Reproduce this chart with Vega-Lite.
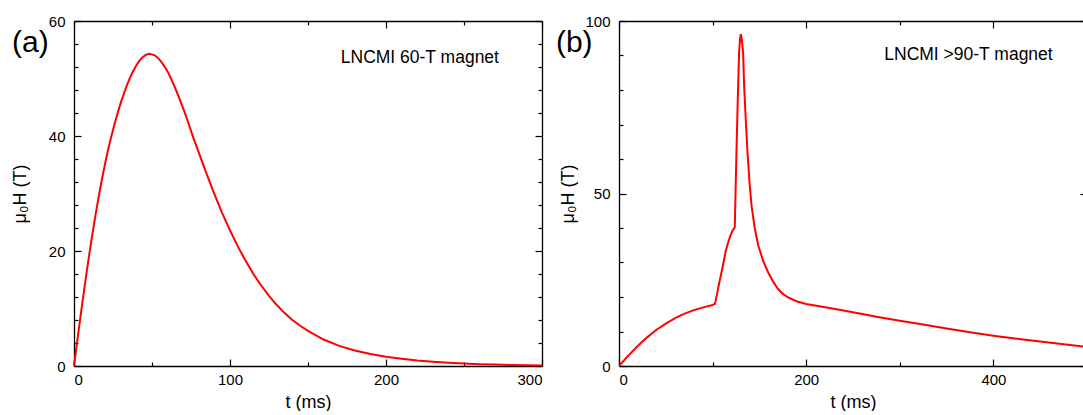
{
  "$schema": "https://vega.github.io/schema/vega-lite/v6.json",
  "background": "white",
  "padding": {"left": 11, "top": 14, "right": 0, "bottom": 0},
  "spacing": 9,
  "config": {
    "font": "Liberation Sans",
    "view": {"stroke": null},
    "axis": {"domainColor": "#000", "tickColor": "#000", "labelColor": "#000", "titleColor": "#000", "labelFontSize": 15, "titleFontSize": 18, "titleFontWeight": "normal", "domainWidth": 1.3, "tickWidth": 1.2, "grid": false, "labelFont": "Liberation Sans", "titleFont": "Liberation Sans"}
  },
  "hconcat": [
    {
      "width": 468,
      "height": 345,
      "data": {"values": [
        {"t": 0, "H": 0}, {"t": 2, "H": 4.2}, {"t": 4, "H": 8.3}, {"t": 6, "H": 12.3}, {"t": 8, "H": 16.1}, {"t": 10, "H": 19.8},
        {"t": 12, "H": 23.3}, {"t": 14, "H": 26.6}, {"t": 16, "H": 29.7}, {"t": 18, "H": 32.6}, {"t": 20, "H": 35.3},
        {"t": 22, "H": 37.8}, {"t": 24, "H": 40.0}, {"t": 26, "H": 42.1}, {"t": 28, "H": 44.0}, {"t": 30, "H": 45.8},
        {"t": 32, "H": 47.4}, {"t": 34, "H": 48.9}, {"t": 36, "H": 50.2}, {"t": 38, "H": 51.3}, {"t": 40, "H": 52.3},
        {"t": 42, "H": 53.1}, {"t": 44, "H": 53.7}, {"t": 46, "H": 54.1}, {"t": 48, "H": 54.3}, {"t": 50, "H": 54.2},
        {"t": 52, "H": 54.0}, {"t": 54, "H": 53.5}, {"t": 56, "H": 52.9}, {"t": 58, "H": 52.1}, {"t": 60, "H": 51.2},
        {"t": 62, "H": 50.1}, {"t": 64, "H": 48.9}, {"t": 66, "H": 47.6}, {"t": 68, "H": 46.2}, {"t": 70, "H": 44.8},
        {"t": 72, "H": 43.3}, {"t": 74, "H": 41.7}, {"t": 76, "H": 40.1}, {"t": 78, "H": 38.6}, {"t": 80, "H": 37.1},
        {"t": 85, "H": 33.4}, {"t": 90, "H": 29.9}, {"t": 95, "H": 26.6}, {"t": 100, "H": 23.6}, {"t": 105, "H": 20.8},
        {"t": 110, "H": 18.3}, {"t": 115, "H": 16.0}, {"t": 120, "H": 14.0}, {"t": 125, "H": 12.2}, {"t": 130, "H": 10.6},
        {"t": 135, "H": 9.2}, {"t": 140, "H": 8.0}, {"t": 145, "H": 7.0}, {"t": 150, "H": 6.1}, {"t": 160, "H": 4.6},
        {"t": 170, "H": 3.5}, {"t": 180, "H": 2.7}, {"t": 190, "H": 2.1}, {"t": 200, "H": 1.6}, {"t": 210, "H": 1.25},
        {"t": 220, "H": 0.95}, {"t": 230, "H": 0.72}, {"t": 240, "H": 0.55}, {"t": 250, "H": 0.42}, {"t": 260, "H": 0.32},
        {"t": 270, "H": 0.24}, {"t": 280, "H": 0.18}, {"t": 290, "H": 0.13}, {"t": 300, "H": 0.1}
      ]},
      "layer": [
        {
          "mark": {"type": "line", "color": "#ff0000", "strokeWidth": 2},
          "encoding": {
            "x": {"field": "t", "type": "quantitative", "scale": {"domain": [0, 300], "nice": false}, "axis": {"orient": "bottom", "values": [0, 100, 200, 300], "ticks": false, "labelPadding": 6, "title": "t (ms)", "titlePadding": 6}},
            "y": {"field": "H", "type": "quantitative", "scale": {"domain": [0, 60], "nice": false}, "axis": {"orient": "left", "values": [0, 20, 40, 60], "ticks": false, "labelPadding": 9, "title": "μ₀H (T)", "titlePadding": 19}}
          }
        },
        {
          "mark": {"type": "line", "opacity": 0},
          "encoding": {
            "x": {"field": "t", "type": "quantitative", "axis": {"orient": "bottom", "values": [0, 100, 200, 300], "labels": false, "domain": false, "tickSize": -7, "title": null}},
            "y": {"field": "H", "type": "quantitative", "axis": {"orient": "left", "values": [0, 20, 40, 60], "labels": false, "domain": false, "tickSize": -7, "title": null}}
          }
        },
        {
          "mark": {"type": "line", "opacity": 0},
          "encoding": {
            "x": {"field": "t", "type": "quantitative", "axis": {"orient": "bottom", "values": [50, 150, 250], "labels": false, "domain": false, "tickSize": -4, "title": null}},
            "y": {"field": "H", "type": "quantitative", "axis": {"orient": "left", "values": [4, 8, 12, 16, 24, 28, 32, 36, 44, 48, 52, 56], "labels": false, "domain": false, "tickSize": -4, "title": null}}
          }
        },
        {
          "mark": {"type": "line", "opacity": 0},
          "encoding": {
            "x": {"field": "t", "type": "quantitative", "axis": {"orient": "top", "values": [0, 100, 200, 300], "labels": false, "domain": true, "tickSize": -7, "title": null}},
            "y": {"field": "H", "type": "quantitative", "axis": {"orient": "right", "values": [0, 20, 40, 60], "labels": false, "domain": true, "tickSize": -7, "title": null}}
          }
        },
        {
          "mark": {"type": "line", "opacity": 0},
          "encoding": {
            "x": {"field": "t", "type": "quantitative", "axis": {"orient": "top", "values": [50, 150, 250], "labels": false, "domain": false, "tickSize": -4, "title": null}},
            "y": {"field": "H", "type": "quantitative", "axis": {"orient": "right", "values": [4, 8, 12, 16, 24, 28, 32, 36, 44, 48, 52, 56], "labels": false, "domain": false, "tickSize": -4, "title": null}}
          }
        },
        {
          "data": {"values": [{"label": "LNCMI 60-T magnet"}]},
          "mark": {"type": "text", "align": "left", "baseline": "middle", "fontSize": 17.5, "color": "#000"},
          "encoding": {
            "x": {"datum": 171, "type": "quantitative", "axis": null},
            "y": {"datum": 53.6, "type": "quantitative", "axis": null},
            "text": {"field": "label"}
          }
        },
        {
          "data": {"values": [{"label": "(a)"}]},
          "mark": {"type": "text", "align": "left", "baseline": "alphabetic", "fontSize": 30, "color": "#000"},
          "encoding": {
            "x": {"datum": -39.7, "type": "quantitative", "axis": null},
            "y": {"datum": 54.6, "type": "quantitative", "axis": null},
            "text": {"field": "label"}
          }
        }
      ],
      "resolve": {"axis": {"x": "independent", "y": "independent"}}
    },
    {
      "width": 468,
      "height": 345,
      "data": {"values": [
        {"t": 0, "H": 0}, {"t": 10, "H": 3.0}, {"t": 20, "H": 5.8}, {"t": 30, "H": 8.3}, {"t": 40, "H": 10.5},
        {"t": 50, "H": 12.3}, {"t": 60, "H": 13.9}, {"t": 70, "H": 15.2}, {"t": 80, "H": 16.2}, {"t": 90, "H": 17.0},
        {"t": 100, "H": 17.7}, {"t": 102.5, "H": 18.0}, {"t": 105, "H": 21.2}, {"t": 107, "H": 24.0}, {"t": 109.5, "H": 27.1},
        {"t": 112, "H": 30.5}, {"t": 114, "H": 33.3}, {"t": 116.6, "H": 35.8}, {"t": 119, "H": 37.8}, {"t": 121, "H": 39.1},
        {"t": 123.7, "H": 40.2}, {"t": 124.5, "H": 50}, {"t": 125.5, "H": 62}, {"t": 126.4, "H": 72}, {"t": 127.3, "H": 81.2},
        {"t": 128.3, "H": 90.9}, {"t": 129.2, "H": 94.5}, {"t": 130.1, "H": 96.2}, {"t": 131, "H": 95}, {"t": 132.6, "H": 90.9},
        {"t": 133.7, "H": 81.2}, {"t": 135.5, "H": 71}, {"t": 137.3, "H": 61.9}, {"t": 139.5, "H": 53}, {"t": 141.6, "H": 46.5},
        {"t": 145, "H": 40}, {"t": 148.7, "H": 35}, {"t": 154, "H": 30.5}, {"t": 159.4, "H": 27.1}, {"t": 165, "H": 24.3},
        {"t": 170, "H": 22.3}, {"t": 175, "H": 20.9}, {"t": 180.7, "H": 19.9}, {"t": 186, "H": 19.2}, {"t": 191.4, "H": 18.6},
        {"t": 200, "H": 18.0}, {"t": 225, "H": 16.8}, {"t": 250, "H": 15.6}, {"t": 275, "H": 14.3}, {"t": 300, "H": 13.1},
        {"t": 325, "H": 12.0}, {"t": 350, "H": 10.9}, {"t": 375, "H": 9.8}, {"t": 400, "H": 8.8}, {"t": 425, "H": 7.9},
        {"t": 450, "H": 7.1}, {"t": 475, "H": 6.3}, {"t": 500, "H": 5.5}
      ]},
      "layer": [
        {
          "mark": {"type": "line", "color": "#ff0000", "strokeWidth": 2},
          "encoding": {
            "x": {"field": "t", "type": "quantitative", "scale": {"domain": [0, 500], "nice": false}, "axis": {"orient": "bottom", "values": [0, 200, 400], "ticks": false, "labelPadding": 6, "title": "t (ms)", "titlePadding": 6}},
            "y": {"field": "H", "type": "quantitative", "scale": {"domain": [0, 100], "nice": false}, "axis": {"orient": "left", "values": [0, 50, 100], "ticks": false, "labelPadding": 9, "title": "μ₀H (T)", "titlePadding": 7}}
          }
        },
        {
          "mark": {"type": "line", "opacity": 0},
          "encoding": {
            "x": {"field": "t", "type": "quantitative", "axis": {"orient": "bottom", "values": [0, 200, 400], "labels": false, "domain": false, "tickSize": -7, "title": null}},
            "y": {"field": "H", "type": "quantitative", "axis": {"orient": "left", "values": [0, 50, 100], "labels": false, "domain": false, "tickSize": -7, "title": null}}
          }
        },
        {
          "mark": {"type": "line", "opacity": 0},
          "encoding": {
            "x": {"field": "t", "type": "quantitative", "axis": {"orient": "bottom", "values": [100, 300, 500], "labels": false, "domain": false, "tickSize": -4, "title": null}},
            "y": {"field": "H", "type": "quantitative", "axis": {"orient": "left", "values": [10, 20, 30, 40, 60, 70, 80, 90], "labels": false, "domain": false, "tickSize": -4, "title": null}}
          }
        },
        {
          "mark": {"type": "line", "opacity": 0},
          "encoding": {
            "x": {"field": "t", "type": "quantitative", "axis": {"orient": "top", "values": [0, 200, 400], "labels": false, "domain": true, "tickSize": -7, "title": null}},
            "y": {"field": "H", "type": "quantitative", "axis": {"orient": "right", "values": [0, 50, 100], "labels": false, "domain": true, "tickSize": -7, "title": null}}
          }
        },
        {
          "mark": {"type": "line", "opacity": 0},
          "encoding": {
            "x": {"field": "t", "type": "quantitative", "axis": {"orient": "top", "values": [100, 300, 500], "labels": false, "domain": false, "tickSize": -4, "title": null}},
            "y": {"field": "H", "type": "quantitative", "axis": {"orient": "right", "values": [10, 20, 30, 40, 60, 70, 80, 90], "labels": false, "domain": false, "tickSize": -4, "title": null}}
          }
        },
        {
          "data": {"values": [{"label": "LNCMI >90-T magnet"}]},
          "mark": {"type": "text", "align": "left", "baseline": "middle", "fontSize": 17.5, "color": "#000"},
          "encoding": {
            "x": {"datum": 283.4, "type": "quantitative", "axis": null},
            "y": {"datum": 90.1, "type": "quantitative", "axis": null},
            "text": {"field": "label"}
          }
        },
        {
          "data": {"values": [{"label": "(b)"}]},
          "mark": {"type": "text", "align": "left", "baseline": "alphabetic", "fontSize": 30, "color": "#000"},
          "encoding": {
            "x": {"datum": -67.4, "type": "quantitative", "axis": null},
            "y": {"datum": 91.0, "type": "quantitative", "axis": null},
            "text": {"field": "label"}
          }
        }
      ],
      "resolve": {"axis": {"x": "independent", "y": "independent"}}
    }
  ]
}
